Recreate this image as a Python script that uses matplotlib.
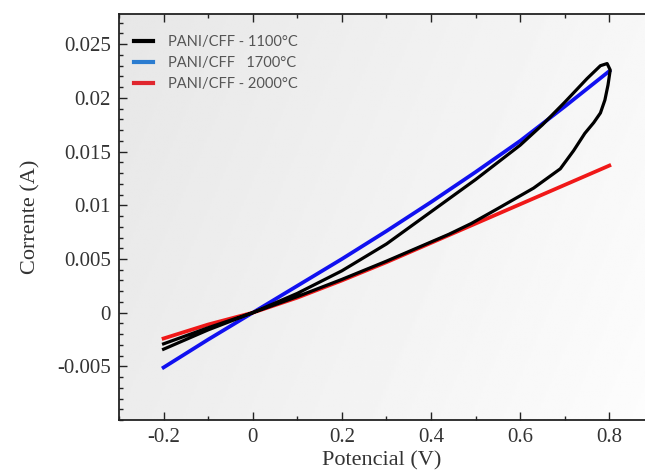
import matplotlib
matplotlib.use("Agg")
import matplotlib.pyplot as plt
import numpy as np
from matplotlib.lines import Line2D
from matplotlib.ticker import MultipleLocator

# PANI/CFF - 1100°C: cyclic loop, forward branch then return branch
v_1100_fwd = [-0.20, -0.10, 0.00, 0.10, 0.20, 0.30, 0.40, 0.50, 0.60, 0.65, 0.70, 0.75, 0.78, 0.795, 0.802]
i_1100_fwd = [-0.0034, -0.0016, 0.0, 0.0018, 0.0039, 0.0064, 0.0094, 0.0124, 0.0156, 0.0175, 0.0196, 0.0218, 0.0230, 0.0232, 0.0226]
v_1100_rev = [0.802, 0.797, 0.79, 0.78, 0.765, 0.745, 0.72, 0.69, 0.63, 0.55, 0.49, 0.44, 0.30, 0.20, 0.10, 0.00, -0.10, -0.20]
i_1100_rev = [0.0226, 0.0212, 0.0198, 0.0186, 0.0177, 0.0167, 0.0151, 0.0134, 0.0116, 0.0097, 0.0083, 0.0073, 0.0048, 0.0031, 0.0015, 0.0, -0.0014, -0.0029]

# PANI/CFF 1700°C
v_1700 = [-0.20, -0.10, 0.00, 0.10, 0.20, 0.30, 0.40, 0.50, 0.60, 0.70, 0.80]
i_1700 = [-0.0051, -0.0025, 0.0, 0.0025, 0.0050, 0.0076, 0.0103, 0.0131, 0.0160, 0.0192, 0.0225]

# PANI/CFF - 2000°C
v_2000 = [-0.20, -0.10, 0.00, 0.10, 0.20, 0.30, 0.40, 0.50, 0.60, 0.70, 0.80]
i_2000 = [-0.0024, -0.0011, 0.0, 0.0014, 0.0030, 0.0047, 0.0065, 0.0083, 0.0101, 0.0119, 0.0137]

labels = ["PANI/CFF - 1100°C", "PANI/CFF   1700°C", "PANI/CFF - 2000°C"]
line_colors = ["#000000", "#1010f0", "#f01818"]
handle_colors = ["#000000", "#2b7cd0", "#e0262e"]

serif = ["Liberation Serif", "DejaVu Serif"]

fig = plt.figure(figsize=(6.45, 4.72), dpi=100)
ax = fig.add_axes([0.1845, 0.110, 0.8155, 0.860])

# light grey gradient background
gx, gy = np.meshgrid(np.linspace(0, 1, 200), np.linspace(0, 1, 200))
grad = 0.905 + 0.085 * (0.75 * gx + 0.25 * gy)
ax.imshow(grad, cmap="gray", vmin=0, vmax=1, extent=[0, 1, 0, 1], transform=ax.transAxes,
          aspect="auto", zorder=0, origin="upper")

ax.plot(v_1100_fwd + v_1100_rev, i_1100_fwd + i_1100_rev, color=line_colors[0], lw=2.3, zorder=3)
ax.plot(v_1700, i_1700, color=line_colors[1], lw=2.7, zorder=2)
ax.plot(v_2000, i_2000, color=line_colors[2], lw=2.7, zorder=2)

ax.set_xlim(-0.3, 0.88)
ax.set_ylim(-0.01, 0.0278)
ax.xaxis.set_minor_locator(MultipleLocator(0.1))
ax.yaxis.set_minor_locator(MultipleLocator(0.001))
ax.set_xticks([-0.2, 0, 0.2, 0.4, 0.6, 0.8])
ax.set_xticklabels(["-0.2", "0", "0.2", "0.4", "0.6", "0.8"])
ax.set_yticks([-0.005, 0, 0.005, 0.01, 0.015, 0.02, 0.025])
ax.set_yticklabels(["-0.005", "0", "0.005", "0.01", "0.015", "0.02", "0.025"])
ax.tick_params(which="both", direction="in", top=True, right=False, width=1.0, color="#222222")
ax.tick_params(which="major", length=6, labelsize=15, pad=6)
ax.tick_params(which="minor", length=3)
for lab in ax.get_xticklabels() + ax.get_yticklabels():
    lab.set_family(serif)
    lab.set_color("#333333")
ax.spines["right"].set_visible(False)
for s in ["left", "bottom", "top"]:
    ax.spines[s].set_linewidth(1.3)
    ax.spines[s].set_color("#222222")

ax.set_xlabel("Potencial (V)", fontsize=16, family=serif, color="#333333", labelpad=3)
ax.set_ylabel("Corrente (A)", fontsize=16, family=serif, color="#333333", labelpad=12)

handles = [Line2D([], [], color=c, lw=3) for c in handle_colors]
ax.legend(handles, labels, loc="upper left", bbox_to_anchor=(0.0, 0.985), frameon=False,
          prop={"family": ["Lato", "DejaVu Sans"], "size": 10.5}, labelcolor="#555555",
          handlelength=1.35, handletextpad=1.0, labelspacing=0.5, borderaxespad=0.6)

fig.savefig("out.png", dpi=100)
